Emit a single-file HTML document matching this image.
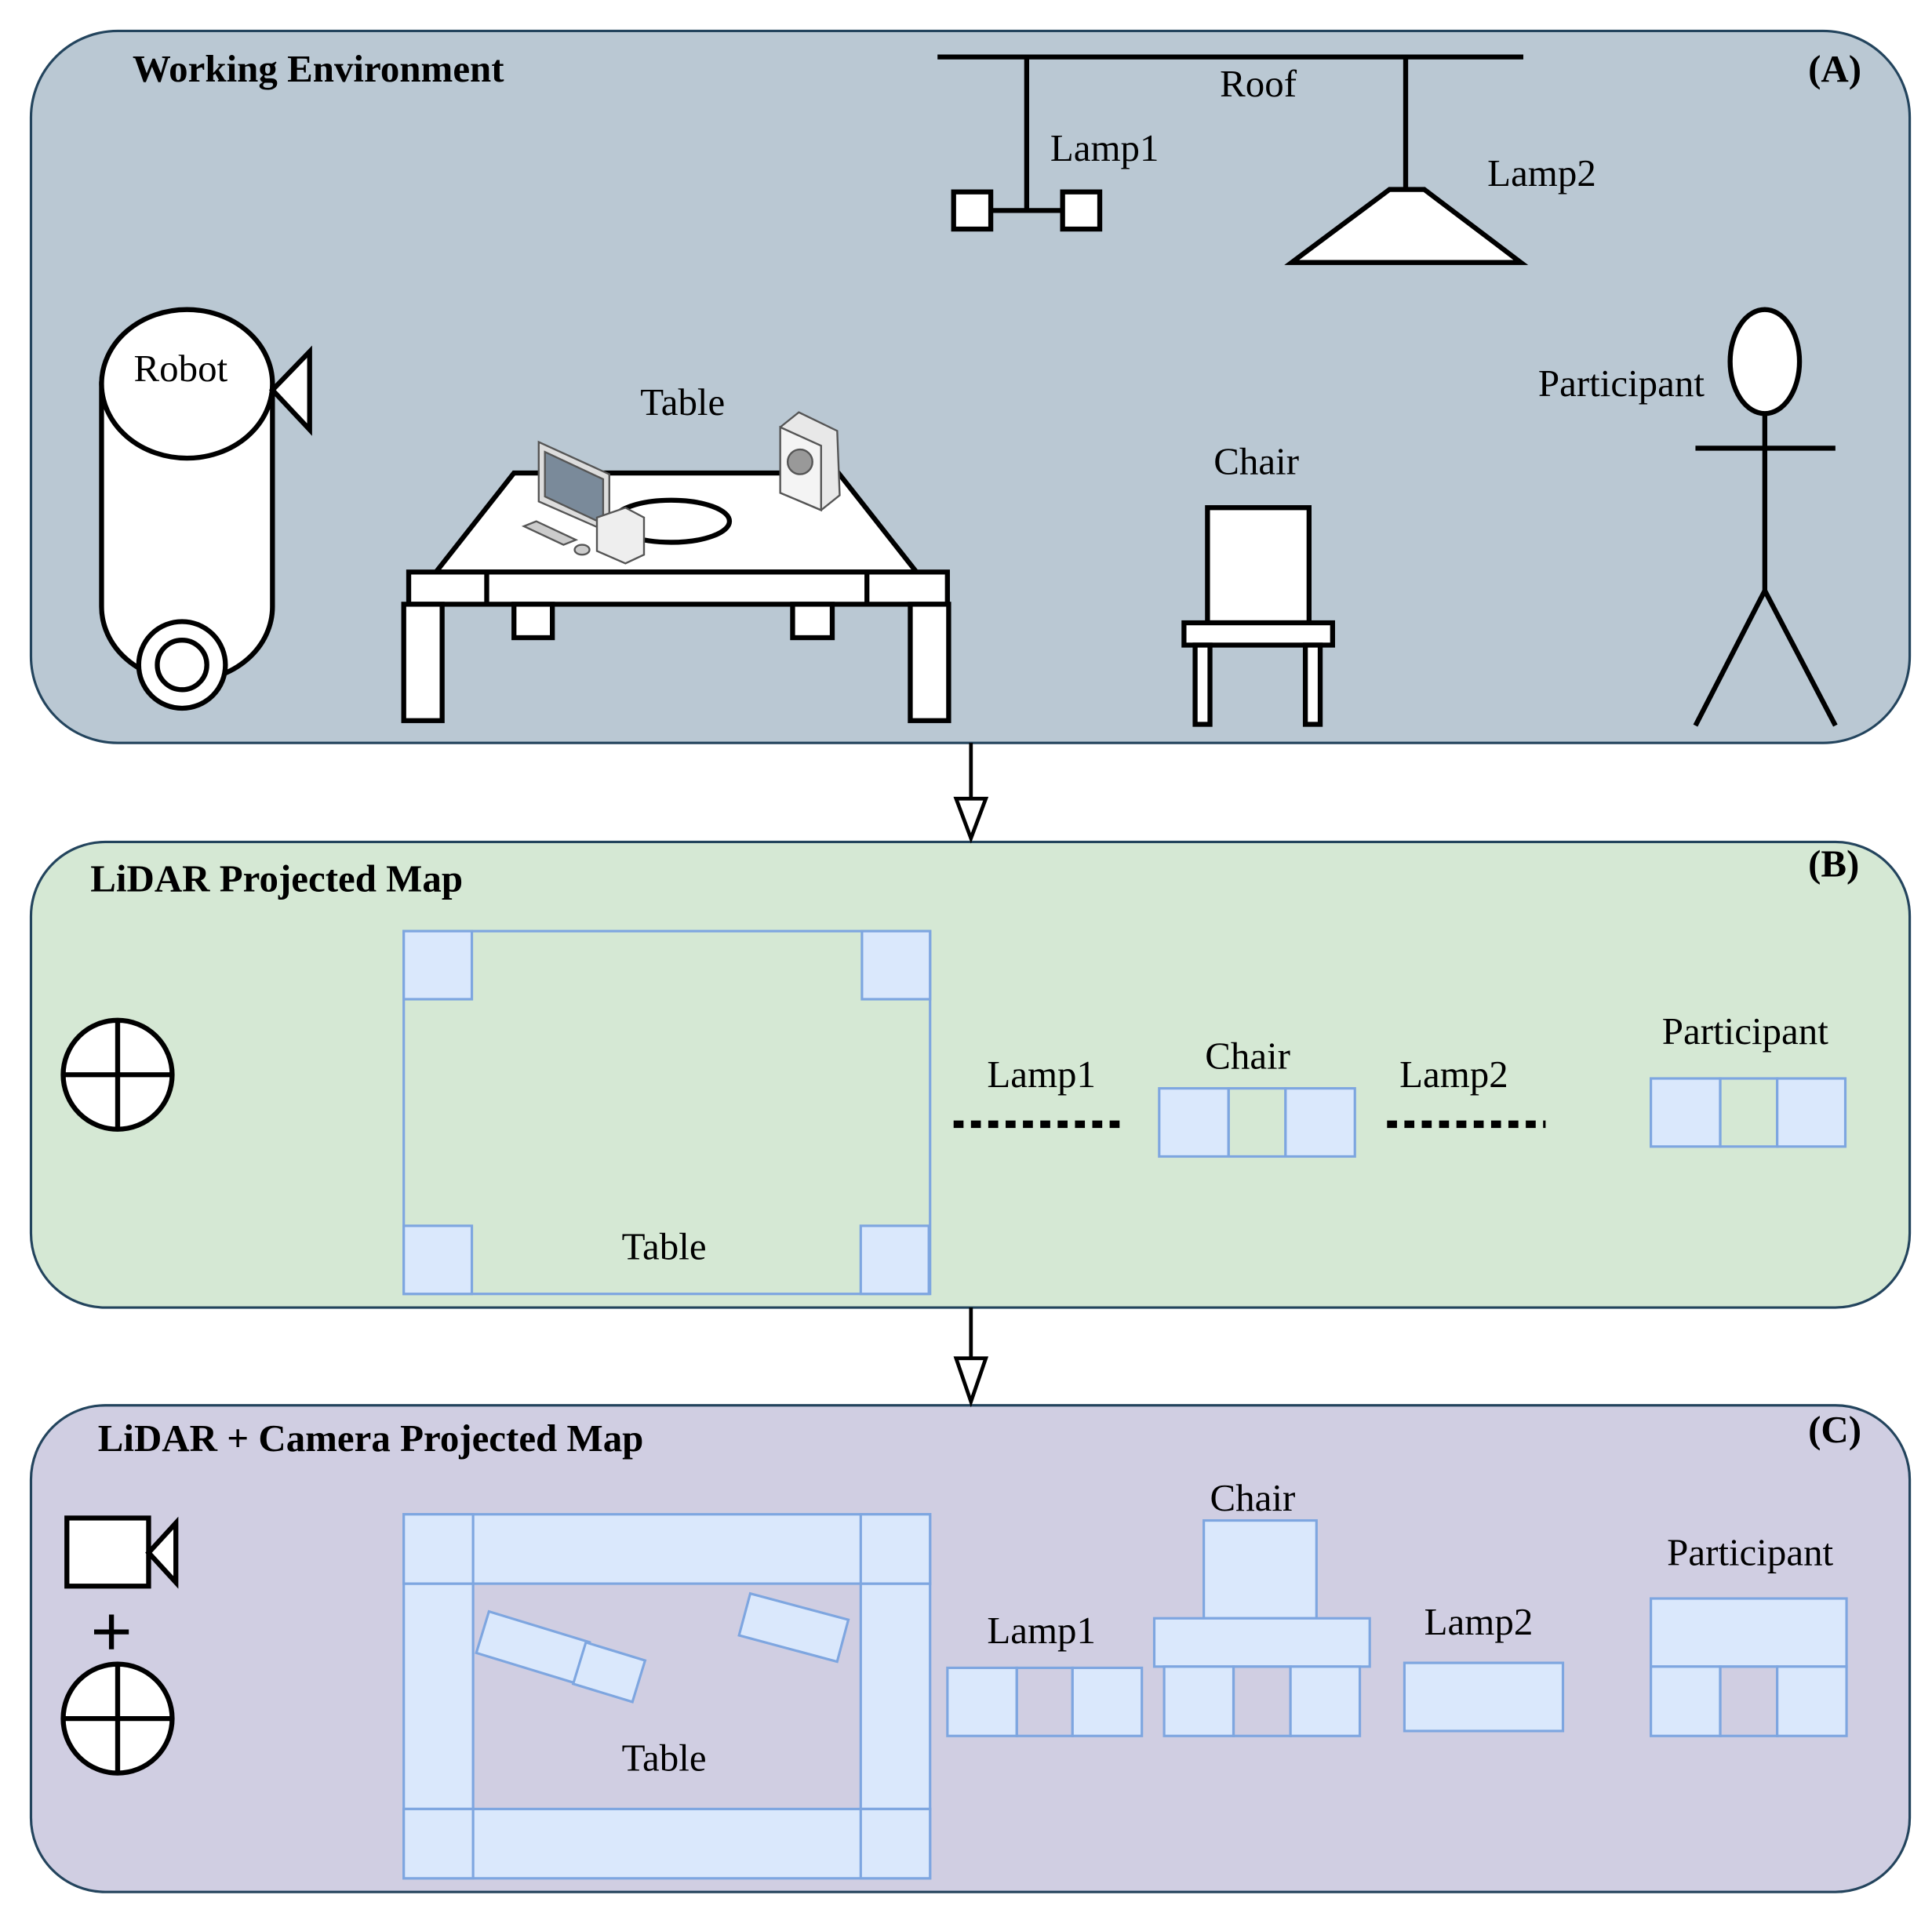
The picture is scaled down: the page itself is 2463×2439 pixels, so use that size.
<!DOCTYPE html>
<html><head><meta charset="utf-8"><style>
html,body{margin:0;padding:0;background:#fff;}
svg{display:block;}
text{font-family:"Liberation Serif",serif;font-size:31px;fill:#000;}
.b{font-weight:bold;font-size:31px;}
</style></head><body>
<svg width="2463" height="2439" viewBox="0 0 1560 1545" preserveAspectRatio="none" xmlns="http://www.w3.org/2000/svg">
<rect x="25" y="25" width="1517" height="575" rx="70" fill="#bac8d3" stroke="#23445d" stroke-width="2"/>
<rect x="25" y="680" width="1517" height="376" rx="60" fill="#d5e8d4" stroke="#23445d" stroke-width="2"/>
<rect x="25" y="1135" width="1517" height="393" rx="60" fill="#d0cee2" stroke="#23445d" stroke-width="2"/>
<g stroke="#000" stroke-width="3" fill="#fff">
<line x1="784" y1="600" x2="784" y2="645"/><polygon points="772,645 796,645 784,677"/>
<line x1="784" y1="1056" x2="784" y2="1097"/><polygon points="772,1097 796,1097 784,1132"/>
</g>
<text x="107" y="66" class="b">Working Environment</text>
<text x="1460" y="66" class="b">(A)</text>
<g stroke="#000" stroke-width="4" fill="#fff">
<line x1="757" y1="46" x2="1230" y2="46"/>
<line x1="829" y1="46" x2="829" y2="170"/>
<line x1="800" y1="170" x2="858" y2="170"/>
<rect x="770" y="155" width="30" height="30"/><rect x="858" y="155" width="30" height="30"/>
<line x1="1135" y1="46" x2="1135" y2="153"/>
<polygon points="1122,153 1150,153 1228,212 1043,212"/>
<path d="M82,310 L82,490 A69,60 0 0 0 220,490 L220,310 Z"/>
<ellipse cx="151" cy="310" rx="69" ry="60"/>
<circle cx="147" cy="537" r="35"/><circle cx="147" cy="537" r="20"/>
<polygon points="220,315 250,284 250,347"/>
<polygon points="415,382 677,382 740,462 352,462"/>
<rect x="330" y="462" width="435" height="26"/>
<line x1="393" y1="462" x2="393" y2="488"/><line x1="700" y1="462" x2="700" y2="488"/>
<rect x="326" y="488" width="31" height="94"/><rect x="735" y="488" width="31" height="94"/>
<rect x="415" y="488" width="31" height="27"/><rect x="640" y="488" width="32" height="27"/>
<ellipse cx="542" cy="421" rx="47" ry="17"/>
<rect x="975" y="410" width="82" height="93"/>
<rect x="956" y="503" width="120" height="18"/>
<rect x="965" y="521" width="12" height="64"/><rect x="1054" y="521" width="12" height="64"/>
<ellipse cx="1425" cy="292" rx="28" ry="42"/>
<line x1="1425" y1="334" x2="1425" y2="477"/>
<line x1="1369" y1="362" x2="1482" y2="362"/>
<line x1="1425" y1="477" x2="1369" y2="586"/><line x1="1425" y1="477" x2="1482" y2="586"/>
</g>
<g stroke="#555" stroke-width="1.5">
<polygon points="435,357 492,383 492,430 435,405" fill="#ddd"/>
<polygon points="440,365 487,387 487,423 440,401" fill="#7a8a9a"/>
<polygon points="423,425 455,440 465,436 433,421" fill="#ccc"/>
<ellipse cx="470" cy="444" rx="6" ry="4" fill="#ccc"/>
<polygon points="482,418 505,410 520,418 520,448 505,455 482,445" fill="#eee"/>
<polygon points="630,345 645,333 676,348 678,400 663,412 630,398" fill="#e8e8e8"/>
<polygon points="630,345 663,360 663,412 630,398" fill="#f4f4f4"/>
<circle cx="646" cy="373" r="10" fill="#999"/>
</g>
<text x="1016" y="78" text-anchor="middle">Roof</text>
<text x="848" y="130">Lamp1</text>
<text x="1201" y="150">Lamp2</text>
<text x="108" y="308">Robot</text>
<text x="517" y="335">Table</text>
<text x="980" y="383">Chair</text>
<text x="1242" y="320">Participant</text>
<text x="73" y="720" class="b">LiDAR  Projected Map</text>
<text x="1460" y="708" class="b">(B)</text>
<g stroke="#000" stroke-width="4" fill="#fff">
<circle cx="95" cy="868" r="44"/><line x1="51" y1="868" x2="139" y2="868"/><line x1="95" y1="824" x2="95" y2="912"/>
</g>
<g stroke="#7ea6e0" stroke-width="2">
<rect x="326" y="752" width="425" height="293" fill="none"/>
<rect x="326" y="752" width="55" height="55" fill="#dae8fc"/>
<rect x="696" y="752" width="55" height="55" fill="#dae8fc"/>
<rect x="326" y="990" width="55" height="55" fill="#dae8fc"/>
<rect x="695" y="990" width="55" height="55" fill="#dae8fc"/>
<rect x="936" y="879" width="56" height="55" fill="#dae8fc"/><rect x="992" y="879" width="46" height="55" fill="none"/><rect x="1038" y="879" width="56" height="55" fill="#dae8fc"/>
<rect x="1333" y="871" width="56" height="55" fill="#dae8fc"/><rect x="1389" y="871" width="46" height="55" fill="none"/><rect x="1435" y="871" width="55" height="55" fill="#dae8fc"/>
</g>
<g stroke="#000" stroke-width="6" stroke-dasharray="8 6">
<line x1="770" y1="908" x2="905" y2="908"/><line x1="1120" y1="908" x2="1248" y2="908"/>
</g>
<text x="502" y="1017">Table</text>
<text x="797" y="878">Lamp1</text>
<text x="973" y="863">Chair</text>
<text x="1130" y="878">Lamp2</text>
<text x="1342" y="843">Participant</text>
<text x="79" y="1172" class="b">LiDAR + Camera Projected Map</text>
<text x="1460" y="1165" class="b">(C)</text>
<g stroke="#000" stroke-width="4" fill="#fff">
<rect x="54" y="1226" width="66" height="55"/>
<polygon points="120,1254 142,1230 142,1278"/>
<line x1="76" y1="1318" x2="104" y2="1318"/><line x1="90" y1="1304" x2="90" y2="1332"/>
<circle cx="95" cy="1388" r="44"/><line x1="51" y1="1388" x2="139" y2="1388"/><line x1="95" y1="1344" x2="95" y2="1432"/>
</g>
<g stroke="#7ea6e0" stroke-width="2" fill="#dae8fc">
<rect x="326" y="1223" width="425" height="56"/>
<rect x="326" y="1461" width="425" height="56"/>
<rect x="326" y="1279" width="56" height="182"/>
<rect x="695" y="1279" width="56" height="182"/>
<rect x="326" y="1223" width="56" height="56"/><rect x="695" y="1223" width="56" height="56"/>
<rect x="326" y="1461" width="56" height="56"/><rect x="695" y="1461" width="56" height="56"/>
<rect x="-42" y="-17" width="85" height="35" transform="translate(430,1330) rotate(17)"/>
<rect x="-25" y="-17" width="50" height="35" transform="translate(492,1350) rotate(17)"/>
<rect x="-41" y="-17" width="82" height="35" transform="translate(641,1314) rotate(15)"/>
<rect x="765" y="1347" width="56" height="55"/><rect x="821" y="1347" width="45" height="55" fill="none"/><rect x="866" y="1347" width="56" height="55"/>
<rect x="972" y="1228" width="91" height="79"/>
<rect x="932" y="1307" width="174" height="39"/>
<rect x="940" y="1346" width="56" height="56"/><rect x="996" y="1346" width="46" height="56" fill="none"/><rect x="1042" y="1346" width="56" height="56"/>
<rect x="1134" y="1343" width="128" height="55"/>
<rect x="1333" y="1291" width="158" height="55"/>
<rect x="1333" y="1346" width="56" height="56"/><rect x="1389" y="1346" width="46" height="56" fill="none"/><rect x="1435" y="1346" width="56" height="56"/>
</g>
<text x="502" y="1430">Table</text>
<text x="797" y="1327">Lamp1</text>
<text x="977" y="1220">Chair</text>
<text x="1150" y="1320">Lamp2</text>
<text x="1346" y="1264">Participant</text>
</svg>
</body></html>
